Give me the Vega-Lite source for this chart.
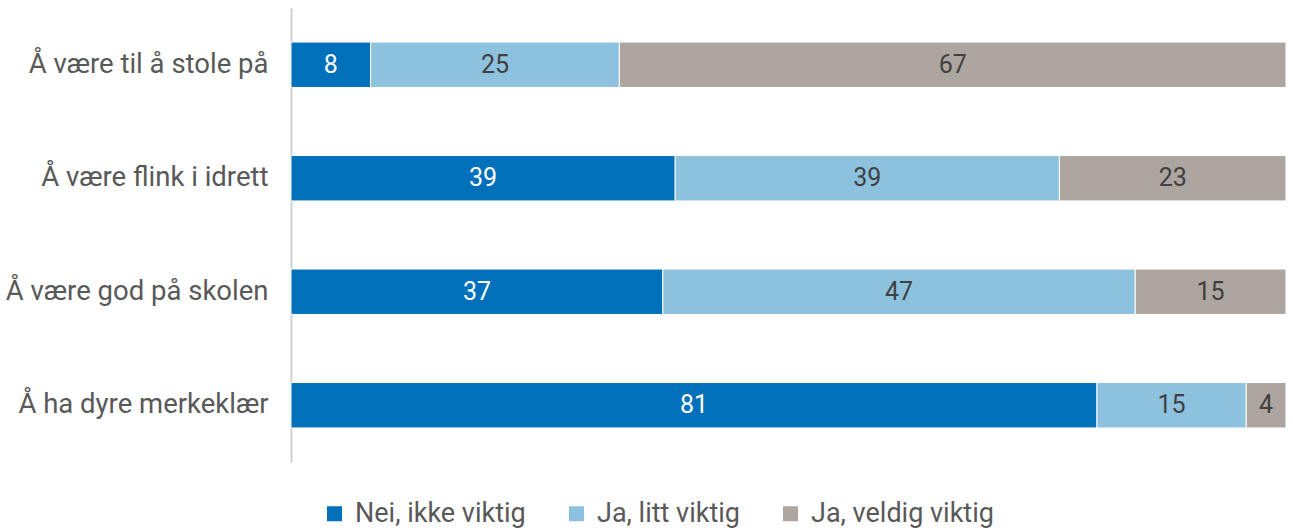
{
  "$schema": "https://vega.github.io/schema/vega-lite/v6.json",
  "autosize": {"type": "none"},
  "width": 995,
  "height": 454,
  "padding": {"left": 291, "top": 8, "right": 7, "bottom": 69},
  "background": "white",
  "config": {"view": {"stroke": null}, "font": "Roboto"},
  "data": {
    "values": [
      {"q": "Å være til å stole på", "cat": "Nei, ikke viktig", "v": 8, "o": 1},
      {"q": "Å være til å stole på", "cat": "Ja, litt viktig", "v": 25, "o": 2},
      {"q": "Å være til å stole på", "cat": "Ja, veldig viktig", "v": 67, "o": 3},
      {"q": "Å være flink i idrett", "cat": "Nei, ikke viktig", "v": 39, "o": 1},
      {"q": "Å være flink i idrett", "cat": "Ja, litt viktig", "v": 39, "o": 2},
      {"q": "Å være flink i idrett", "cat": "Ja, veldig viktig", "v": 23, "o": 3},
      {"q": "Å være god på skolen", "cat": "Nei, ikke viktig", "v": 37, "o": 1},
      {"q": "Å være god på skolen", "cat": "Ja, litt viktig", "v": 47, "o": 2},
      {"q": "Å være god på skolen", "cat": "Ja, veldig viktig", "v": 15, "o": 3},
      {"q": "Å ha dyre merkeklær", "cat": "Nei, ikke viktig", "v": 81, "o": 1},
      {"q": "Å ha dyre merkeklær", "cat": "Ja, litt viktig", "v": 15, "o": 2},
      {"q": "Å ha dyre merkeklær", "cat": "Ja, veldig viktig", "v": 4, "o": 3}
    ]
  },
  "transform": [
    {"stack": "v", "groupby": ["q"], "sort": [{"field": "o", "order": "ascending"}], "offset": "normalize", "as": ["v0", "v1"]},
    {"calculate": "(datum.v0 + datum.v1) / 2", "as": "mid"}
  ],
  "encoding": {
    "y": {
      "field": "q", "type": "nominal", "sort": null,
      "scale": {"paddingInner": 0.6, "paddingOuter": 0.3},
      "axis": {"title": null, "ticks": false, "domainColor": "#d0d0d0", "domainWidth": 2, "labelFontSize": 27.5, "labelColor": "#595959", "labelPadding": 23, "labelLimit": 300}
    }
  },
  "layer": [
    {
      "mark": {"type": "bar", "stroke": "white", "strokeWidth": 1},
      "encoding": {
        "x": {"field": "v0", "type": "quantitative", "scale": {"domain": [0, 1], "nice": false}, "axis": null},
        "x2": {"field": "v1"},
        "color": {
          "field": "cat", "type": "nominal",
          "scale": {"domain": ["Nei, ikke viktig", "Ja, litt viktig", "Ja, veldig viktig"], "range": ["#0070ba", "#8dc2df", "#ada59f"]},
          "legend": {"title": null, "orient": "none", "legendX": 30, "legendY": 492, "direction": "horizontal", "symbolType": "square", "symbolSize": 225, "symbolStrokeWidth": 0, "labelFontSize": 27, "labelColor": "#595959", "labelOffset": 7, "labelLimit": 400, "columnPadding": 37, "symbolOpacity": 1}
        }
      }
    },
    {
      "mark": {"type": "text", "fontSize": 25, "baseline": "middle", "align": "center"},
      "encoding": {
        "x": {"field": "mid", "type": "quantitative"},
        "text": {"field": "v", "type": "quantitative"},
        "color": {
          "condition": {"test": "datum.cat === 'Nei, ikke viktig'", "value": "white"},
          "value": "#404040"
        }
      }
    }
  ]
}
